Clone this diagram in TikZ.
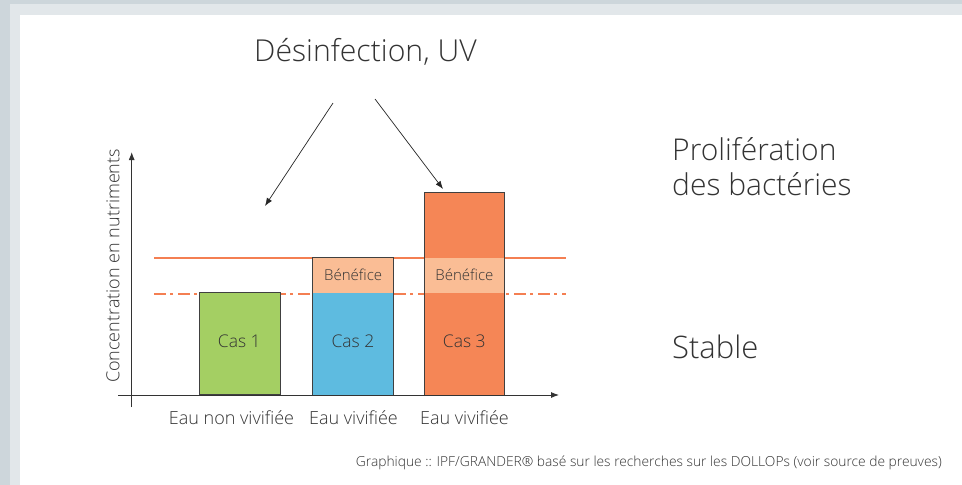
\documentclass[tikz,border=0pt]{standalone}
\usepackage{fontspec}
\setmainfont{Open Sans Light}
\usetikzlibrary{arrows.meta}
\definecolor{bdark}{HTML}{CDD6DB}
\definecolor{blight}{HTML}{E2E7EA}
\definecolor{cgreen}{HTML}{A4CF63}
\definecolor{cblue}{HTML}{5EBBE0}
\definecolor{corange}{HTML}{F58656}
\definecolor{cpeach}{HTML}{FABD95}
\definecolor{cline}{HTML}{F47F52}
\definecolor{txt}{HTML}{333333}
\tikzset{
  barbox/.style={anchor=south west, inner sep=0pt, minimum width=80.5pt, text=txt, font=\fontsize{17.5}{20}\selectfont},
  benbox/.style={anchor=south west, inner sep=0pt, minimum width=80.5pt, minimum height=35pt, fill=cpeach, text=txt, font=\fontsize{15}{17}\selectfont},
  outline/.style={draw=black!75, line width=0.9pt},
  axis/.style={draw=black!80, line width=0.9pt, -{Latex[length=8pt,width=6pt]}},
  uvarrow/.style={draw=black!85, line width=0.7pt, -{Latex[length=8pt,width=6pt]}},
  lbl/.style={text=txt, inner sep=0pt},
}
\begin{document}
\begin{tikzpicture}[x=1pt,y=-1pt]
\useasboundingbox (0,0) rectangle (962,485);
% frame
\fill[bdark] (0,0) rectangle (962,485);
\fill[blight] (10,4) rectangle (962,485);
\fill[white] (20,15) rectangle (962,485);
% threshold lines
\coordinate (sl) at (154,258); \coordinate (sr) at (566,258);
\coordinate (dl) at (154,294); \coordinate (dr) at (566,294);
\draw[cline, line width=2pt] (sl) -- (sr);
\draw[cline, line width=2pt, dash pattern=on 12pt off 4pt on 3pt off 5pt] (dl) -- (dr);
% bars
\node[barbox, fill=cgreen, minimum height=102pt, outline] (cas1bg) at (199,395) {};
\node[lbl, font=\fontsize{17.5}{20}\selectfont] (cas1) at (239.3,341) {Cas 1};
\node[barbox, fill=cblue, minimum height=102pt] (cas2bg) at (312.7,395) {};
\node[lbl, font=\fontsize{17.5}{20}\selectfont] (cas2) at (353,341) {Cas 2};
\node[benbox] (ben2) at (312.7,293) {Bénéfice};
\draw[outline] (ben2.north west) rectangle (cas2bg.south east);
\node[barbox, fill=corange, minimum height=202pt] (cas3bg) at (424,395) {};
\node[lbl, font=\fontsize{17.5}{20}\selectfont] (cas3) at (464.3,341) {Cas 3};
\node[benbox] (ben3) at (424,293) {Bénéfice};
\draw[outline] (cas3bg.north west) rectangle (cas3bg.south east);
% axes
\coordinate (yb) at (131.7,407); \coordinate (yt) at (131.7,152);
\coordinate (xl) at (118,395); \coordinate (xr) at (559,395);
\draw[axis] (yb) -- (yt);
\draw[axis] (xl) -- (xr);
% texts
\node[lbl, font=\fontsize{30.2}{36}\selectfont] (title) at (365.5,52) {Désinfection, UV};
\coordinate (a1s) at (333,103); \coordinate (a1e) at (265,206);
\coordinate (a2s) at (375,99); \coordinate (a2e) at (443,189);
\draw[uvarrow] (a1s) -- (a1e);
\draw[uvarrow] (a2s) -- (a2e);
\node[lbl, anchor=west, align=left, font=\fontsize{30}{35}\selectfont] (prolif) at (672,167) {Prolifération\\des bactéries};
\node[lbl, anchor=west, font=\fontsize{31}{34}\selectfont] (stable) at (672,347) {Stable};
\node[lbl, rotate=90, font=\fontsize{18}{20}\selectfont] (ylab) at (113,266) {Concentration en nutriments};
\node[lbl, font=\fontsize{18}{20}\selectfont] (x1) at (231.5,418) {Eau non vivifiée};
\node[lbl, font=\fontsize{18}{20}\selectfont] (x2) at (353.5,418) {Eau vivifiée};
\node[lbl, font=\fontsize{18}{20}\selectfont] (x3) at (464.5,418) {Eau vivifiée};
\node[lbl, anchor=east, font=\fontsize{13.8}{16}\selectfont] (src) at (942,463) {Graphique :: IPF/GRANDER® basé sur les recherches sur les DOLLOPs (voir source de preuves)};
\end{tikzpicture}
\end{document}
